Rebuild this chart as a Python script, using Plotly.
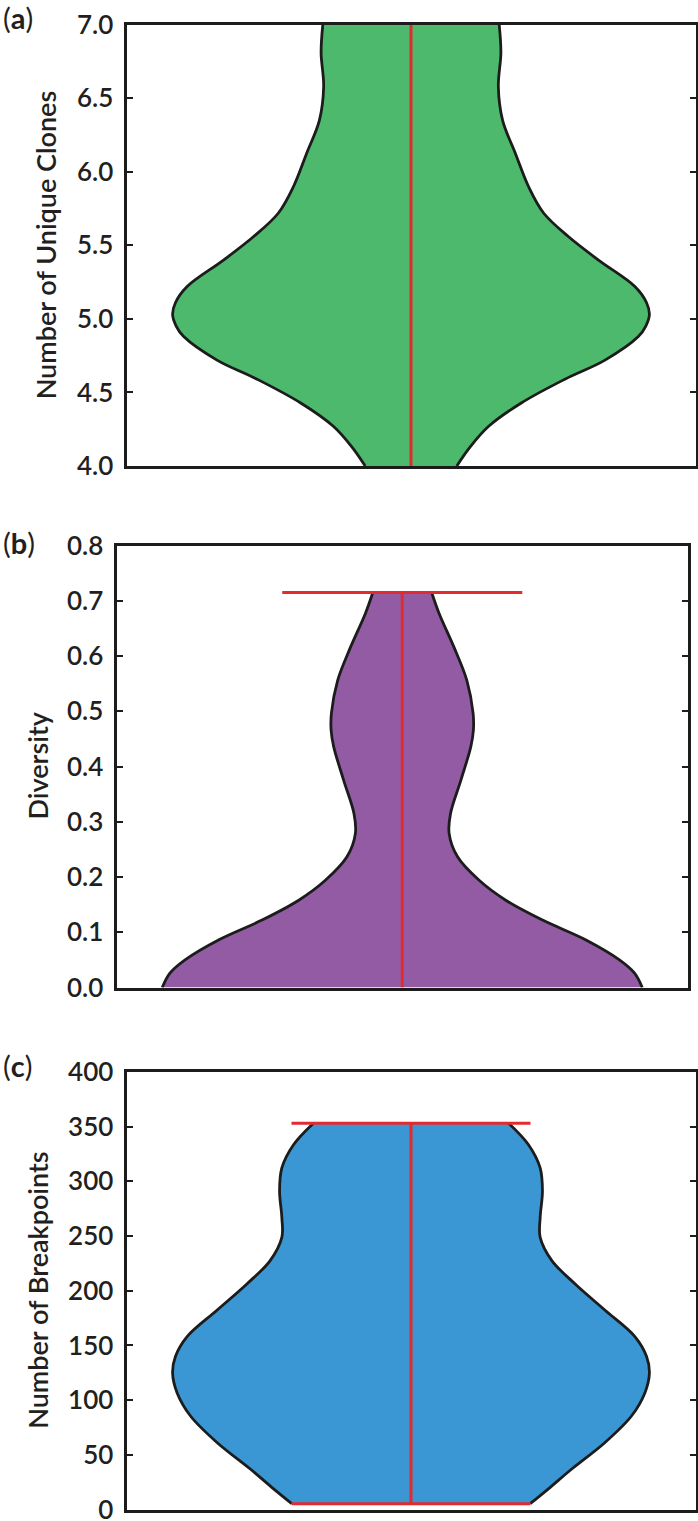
import plotly.graph_objects as go

# ---------------- data ----------------
# violin half-width profiles (value level -> normalised half-width)
clones_levels = [4.0, 4.13, 4.27, 4.43, 4.59, 4.72, 4.88, 4.95, 5.03, 5.11, 5.22, 5.40,
                 5.56, 5.72, 5.90, 6.13, 6.35, 6.58, 6.81, 7.0]
clones_width = [0.161, 0.208, 0.273, 0.389, 0.541, 0.682, 0.799, 0.825, 0.838, 0.828, 0.787, 0.659,
                0.553, 0.466, 0.413, 0.366, 0.322, 0.307, 0.316, 0.310]

diversity_levels = [0.0, 0.026, 0.050, 0.086, 0.122, 0.158, 0.194, 0.237, 0.279, 0.315,
                    0.375, 0.436, 0.466, 0.496, 0.556, 0.616, 0.677, 0.715]
diversity_width = [0.840, 0.813, 0.760, 0.643, 0.491, 0.362, 0.269, 0.193, 0.164, 0.169,
                   0.205, 0.240, 0.249, 0.248, 0.226, 0.181, 0.129, 0.103]

breakpoints_levels = [5.3, 18.9, 37.0, 61.3, 85.5, 106.6, 124.8, 139.9, 158.1, 182.2,
                      206.4, 227.6, 248.8, 267.0, 291.1, 312.3, 333.5, 353.2]
breakpoints_width = [0.419, 0.483, 0.565, 0.682, 0.775, 0.822, 0.838, 0.828, 0.787, 0.682,
                     0.576, 0.495, 0.454, 0.454, 0.462, 0.454, 0.413, 0.343]

clones_ticks = [4.0, 4.5, 5.0, 5.5, 6.0, 6.5, 7.0]
diversity_ticks = [0.0, 0.1, 0.2, 0.3, 0.4, 0.5, 0.6, 0.7, 0.8]
breakpoints_ticks = [0, 50, 100, 150, 200, 250, 300, 350, 400]

panel_letters = ["a", "b", "c"]
axis_titles = ["Number of Unique Clones", "Diversity", "Number of Breakpoints"]

# ---------------- style / layout ----------------
W, H = 698, 1521
FONT = "Lato"
TXT = "#231f20"
EDGE = "#1c1c1c"
RED = "#e22a2f"
CAP_HALF = 0.42

panels = [
    dict(levels=clones_levels, width=clones_width, ticks=clones_ticks, rng=[4.0, 7.0],
         fmt=".1f", fill="#4cb96c", caps=False,
         box=(126.5, 695.5, 24.7, 466.0), title_x=45, label_y=17),
    dict(levels=diversity_levels, width=diversity_width, ticks=diversity_ticks, rng=[0.0, 0.8],
         fmt=".1f", fill="#925ba4", caps=True,
         box=(116.5, 688.0, 545.5, 987.5), title_x=37, label_y=542),
    dict(levels=breakpoints_levels, width=breakpoints_width, ticks=breakpoints_ticks, rng=[0, 400],
         fmt="d", fill="#3a97d3", caps=True,
         box=(126.5, 695.5, 1072.0, 1509.5), title_x=38, label_y=1065),
]

fig = go.Figure()
annotations = []
for i, p in enumerate(panels, start=1):
    xa = "x" if i == 1 else f"x{i}"
    ya = "y" if i == 1 else f"y{i}"
    lv, wd = p["levels"], p["width"]
    side_line = dict(color=EDGE, width=2.8, shape="spline", smoothing=1.0)
    fig.add_trace(go.Scatter(x=[-w for w in wd], y=lv, mode="lines", line=side_line,
                             hoverinfo="skip", showlegend=False, xaxis=xa, yaxis=ya))
    fig.add_trace(go.Scatter(x=list(wd), y=lv, mode="lines", line=side_line,
                             fill="tonextx", fillcolor=p["fill"],
                             hoverinfo="skip", showlegend=False, xaxis=xa, yaxis=ya))
    lo, hi = min(lv), max(lv)
    fig.add_trace(go.Scatter(x=[0, 0], y=[lo, hi], mode="lines",
                             line=dict(color=RED, width=3), hoverinfo="skip",
                             showlegend=False, xaxis=xa, yaxis=ya))
    if p["caps"]:
        for v in (lo, hi):
            if v <= p["rng"][0] or v >= p["rng"][1]:
                continue  # cap lies under the axis frame
            fig.add_trace(go.Scatter(x=[-CAP_HALF, CAP_HALF], y=[v, v], mode="lines",
                                     line=dict(color=RED, width=3), hoverinfo="skip",
                                     showlegend=False, xaxis=xa, yaxis=ya))
    x0, x1, ytop, ybot = p["box"]
    xdom = [x0 / W, x1 / W]
    ydom = [1 - ybot / H, 1 - ytop / H]
    xkey = "xaxis" if i == 1 else f"xaxis{i}"
    ykey = "yaxis" if i == 1 else f"yaxis{i}"
    fig.layout[xkey] = dict(domain=xdom, range=[-1, 1], showticklabels=False, ticks="",
                            showgrid=False, zeroline=False, showline=True, mirror=True,
                            linecolor=EDGE, linewidth=3, anchor=ya, fixedrange=True,
                            automargin=False)
    fig.layout[ykey] = dict(domain=ydom, range=p["rng"], tickvals=p["ticks"], tickformat=p["fmt"],
                            ticks="inside", ticklen=6, tickwidth=1.5, tickcolor=EDGE,
                            showgrid=False, zeroline=False, showline=True, mirror="ticks",
                            linecolor=EDGE, linewidth=3, anchor=xa, ticklabelstandoff=5,
                            ticklabeloverflow="allow",
                            tickfont=dict(family=FONT, size=26, color=TXT, weight=600),
                            fixedrange=True, automargin=False)
    annotations.append(dict(text=f"(<b>{panel_letters[i-1]}</b>)", xref="paper", yref="paper",
                            x=1 / W, y=1 - p["label_y"] / H, xanchor="left", yanchor="middle",
                            showarrow=False, font=dict(family=FONT, size=29, color=TXT)))
    annotations.append(dict(text=axis_titles[i-1], xref="paper", yref="paper", textangle=-90,
                            x=p["title_x"] / W, y=1 - (ytop + ybot) / 2 / H,
                            xanchor="center", yanchor="middle", showarrow=False,
                            font=dict(family=FONT, size=27, color=TXT, weight=600)))

fig.update_layout(template="none", width=W, height=H, margin=dict(l=0, r=0, t=0, b=0, autoexpand=False),
                  paper_bgcolor="white", plot_bgcolor="white",
                  annotations=annotations, showlegend=False)

fig.write_html("out.html", config={"displayModeBar": False},
               post_script="document.body.style.margin='0';document.body.style.overflow='hidden';")
